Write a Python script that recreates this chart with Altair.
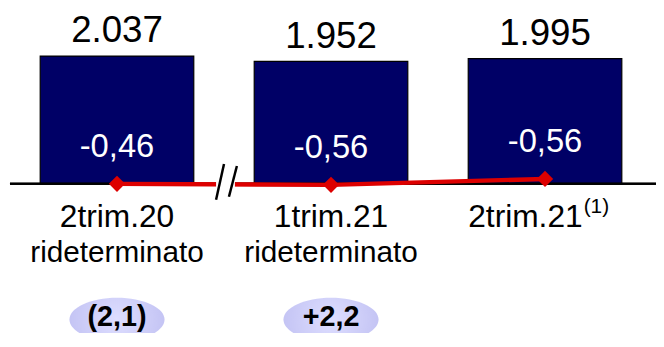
import altair as alt
import pandas as pd

categories = ["2trim.20", "1trim.21", "2trim.21"]
bar_values = [2037, 1952, 1995]
bar_labels = ["2.037", "1.952", "1.995"]
inner_labels = ["-0,46", "-0,56", "-0,56"]
line_levels = [0, -16, 79]
label_line1 = ["2trim.20", "1trim.21", "2trim.21"]
label_line2 = ["rideterminato", "rideterminato", ""]
footnote = ["", "", "(1)"]
bubble_cats = ["2trim.20", "1trim.21"]
bubble_labels = ["(2,1)", "+2,2"]

FONT = "Liberation Sans"
NAVY = "#000066"
RED = "#DD0000"

df = pd.DataFrame({
    "cat": categories,
    "value": bar_values,
    "vlabel": bar_labels,
    "inner": inner_labels,
    "level": line_levels,
    "l1": label_line1,
    "l2": label_line2,
    "fn": footnote,
})
bubbles = pd.DataFrame({"cat": bubble_cats, "txt": bubble_labels})

xenc = alt.X("cat:N", sort=categories,
             scale=alt.Scale(domain=categories, paddingInner=0.2824,
                             paddingOuter=0.1551, align=0.485),
             axis=None)
yscale = alt.Scale(domain=[-2353, 2779], nice=False, zero=False)

base = alt.Chart(df)

bars = base.mark_bar(color=NAVY, stroke="black", strokeWidth=1.2).encode(
    x=xenc,
    y=alt.Y("value:Q", scale=yscale, axis=None),
    y2=alt.datum(0),
)

baseline = base.mark_rule(color="black", strokeWidth=2).encode(
    y=alt.datum(0), x=alt.value(2), x2=alt.value(654)
)

red_line = base.mark_line(color=RED, strokeWidth=4.5).encode(
    x=xenc, y=alt.Y("level:Q", scale=yscale)
)
diamonds = base.mark_point(shape="diamond", filled=True, color=RED,
                           size=270, opacity=1).encode(
    x=xenc, y=alt.Y("level:Q", scale=yscale)
)

gap = base.mark_rect(color="white").encode(
    x=alt.value(210), x2=alt.value(229), y=alt.value(168), y2=alt.value(185)
).transform_filter(alt.datum.cat == categories[0])

slash1 = base.mark_rule(color="black", strokeWidth=2.5).encode(
    x=alt.value(218), x2=alt.value(210), y=alt.value(156), y2=alt.value(192)
).transform_filter(alt.datum.cat == categories[0])
slash2 = base.mark_rule(color="black", strokeWidth=2.5).encode(
    x=alt.value(231), x2=alt.value(223), y=alt.value(158), y2=alt.value(189)
).transform_filter(alt.datum.cat == categories[0])

value_text = base.mark_text(font=FONT, fontSize=37, color="black",
                            baseline="alphabetic", dy=-14).encode(
    x=xenc, y=alt.Y("value:Q", scale=yscale), text="vlabel:N"
)
inner_text = base.mark_text(font=FONT, fontSize=33, color="white",
                            baseline="alphabetic", dy=-27).encode(
    x=xenc, y=alt.Y("level:Q", scale=yscale), text="inner:N"
)

cat_text12 = base.mark_text(font=FONT, fontSize=32, color="black",
                            baseline="alphabetic").encode(
    x=xenc, y=alt.value(220), text="l1:N"
).transform_filter(alt.datum.fn == "")
cat_text3 = base.mark_text(font=FONT, fontSize=32, color="black",
                           baseline="alphabetic", align="right", dx=38).encode(
    x=xenc, y=alt.value(220), text="l1:N"
).transform_filter(alt.datum.fn != "")
fn_text = base.mark_text(font=FONT, fontSize=21, color="black",
                         baseline="alphabetic", align="left", dx=39).encode(
    x=xenc, y=alt.value(205), text="fn:N"
).transform_filter(alt.datum.fn != "")
cat_line2 = base.mark_text(font=FONT, fontSize=30, color="black",
                           baseline="alphabetic").encode(
    x=xenc, y=alt.value(255), text="l2:N"
)

ellipse_path = "M-1,0A1,0.46,0,1,1,1,0A1,0.46,0,1,1,-1,0Z"
bubble_marks = alt.Chart(bubbles).mark_point(
    shape=ellipse_path, filled=True, size=9216, opacity=1,
    fill=alt.Gradient(gradient="radial",
                      stops=[alt.GradientStop(color="#DEDEFF", offset=0),
                             alt.GradientStop(color="#C4C4F4", offset=1)]),
    strokeWidth=0,
).encode(x=xenc, y=alt.value(313))
bubble_text = alt.Chart(bubbles).mark_text(
    font=FONT, fontSize=29, fontWeight="bold", color="black", baseline="middle"
).encode(x=xenc, y=alt.value(310), text="txt:N")

chart = alt.layer(
    bars, baseline, red_line, diamonds, gap, slash1, slash2,
    value_text, inner_text, cat_text12, cat_text3, fn_text, cat_line2,
    bubble_marks, bubble_text,
).properties(
    width=654, height=325,
    autosize=alt.AutoSizeParams(type="none"),
    padding=0,
    background="white",
).configure_view(stroke=None)

chart.save("out.html", embed_options={"renderer": "svg", "actions": False})
